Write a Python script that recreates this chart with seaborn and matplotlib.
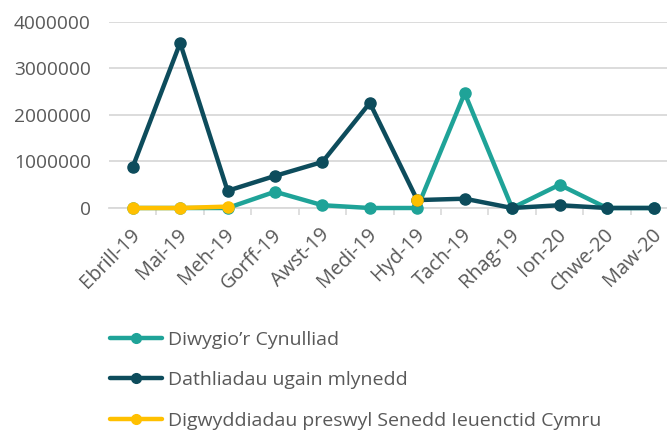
import numpy as np
import pandas as pd
import seaborn as sns
import matplotlib.pyplot as plt
from matplotlib.lines import Line2D
from matplotlib.transforms import ScaledTranslation

months = ['Ebrill-19', 'Mai-19', 'Meh-19', 'Gorff-19', 'Awst-19', 'Medi-19',
          'Hyd-19', 'Tach-19', 'Rhag-19', 'Ion-20', 'Chwe-20', 'Maw-20']
diwygio = [0, 0, 0, 350000, 60000, 0, 0, 2470000, 0, 500000, 0, 0]
dathliadau = [880000, 3550000, 370000, 690000, 990000, 2260000,
              170000, 200000, 0, 60000, 0, 0]
senedd_ieuenctid = [0, 0, 30000, np.nan, np.nan, np.nan,
                    170000, np.nan, np.nan, np.nan, np.nan, np.nan]

series_names = ['Diwygio\u2019r Cynulliad', 'Dathliadau ugain mlynedd',
                'Digwyddiadau preswyl Senedd Ieuenctid Cymru']
colours = ['#1fa398', '#0d4c5c', '#ffc000']

sns.set_theme(style='white')
plt.rcParams['font.family'] = ['Open Sans', 'DejaVu Sans']
text_col = '#595959'

fig = plt.figure(figsize=(6.67, 4.34), dpi=100)
ax = fig.add_axes([109 / 667, 1 - 208 / 434, 1 - 109 / 667, (208 - 22) / 434])

x = np.arange(len(months))
for name, vals, col in zip(series_names, [diwygio, dathliadau, senedd_ieuenctid], colours):
    df = pd.DataFrame({'x': x, 'y': vals})
    # NaN leaves gaps, like the empty cells in the source sheet
    ax.plot(df['x'], df['y'], color=col, lw=3.2, marker='o', ms=8,
            clip_on=False, zorder=3, label=name)

ax.set_xlim(-0.5, (667 - 133) / 47.4)
ax.set_ylim(0, 4000000)
ax.set_yticks([0, 1000000, 2000000, 3000000, 4000000])
ax.set_yticklabels(['0', '1000000', '2000000', '3000000', '4000000'])
ax.yaxis.grid(True, color='#d9d9d9', lw=1.3)
ax.set_axisbelow(True)
for s in ['top', 'right', 'left']:
    ax.spines[s].set_visible(False)
ax.spines['bottom'].set_color('#d9d9d9')
ax.spines['bottom'].set_linewidth(1.3)

ax.set_xticks(x)
ax.set_xticklabels(months, rotation=45, ha='right', va='center', rotation_mode='anchor')
ax.set_xticks(x[:-1] + 0.5, minor=True)
ax.tick_params(axis='x', which='major', length=0, pad=17, labelsize=14.3, colors=text_col)
ax.tick_params(axis='x', which='minor', length=5, color='#d9d9d9', width=1.2, bottom=True)
ax.tick_params(axis='y', length=0, pad=13, labelsize=13.8, colors=text_col)
# nudge the month labels a little to the right, as in the original
shift = ScaledTranslation(4 / 100, 0, fig.dpi_scale_trans)
for lab in ax.get_xticklabels():
    lab.set_transform(lab.get_transform() + shift)

handles = [Line2D([], [], color=c, lw=3.2, marker='o', ms=7) for c in colours]
fig.legend(handles, series_names, loc='upper left', bbox_to_anchor=(102 / 667, 1 - 323 / 434),
           frameon=False, fontsize=14, labelcolor=text_col, handlelength=2.7,
           handletextpad=0.3, labelspacing=1.15, borderaxespad=0)

fig.savefig('out.png', dpi=100)
